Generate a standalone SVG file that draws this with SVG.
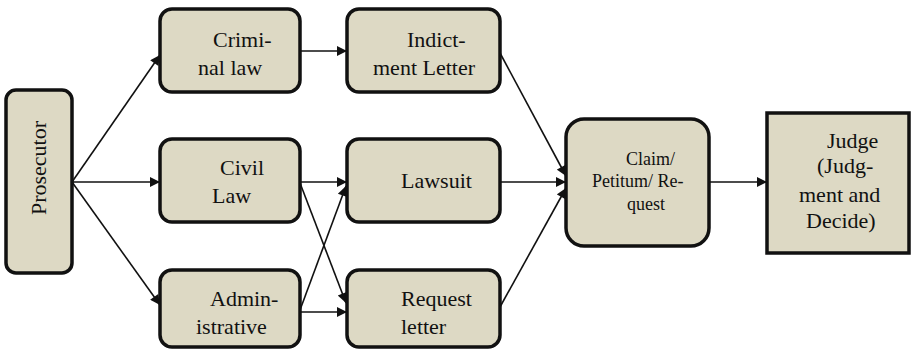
<svg xmlns="http://www.w3.org/2000/svg" width="911" height="350" viewBox="0 0 911 350">
<style>
.box{fill:#ddd9c4;stroke:#111;stroke-width:3.5}
.t{font-family:"Liberation Serif","Times New Roman",serif;font-size:22px;fill:#111}
.s{font-size:18px}
.c{fill:none;stroke:#111;stroke-width:1.6}
</style>
<defs>
<marker id="ah" viewBox="0 0 10 10" refX="10" refY="5" markerWidth="12" markerHeight="10" markerUnits="userSpaceOnUse" orient="auto">
<path d="M0,0 L10,5 L0,10 z" fill="#111"/>
</marker>
</defs>
<rect width="911" height="350" fill="#fff"/>
<g id="connectors">
<line class="c" x1="72" y1="182" x2="160" y2="55" marker-end="url(#ah)"/>
<line class="c" x1="72" y1="182" x2="160" y2="182" marker-end="url(#ah)"/>
<line class="c" x1="72" y1="182" x2="160" y2="305" marker-end="url(#ah)"/>
<line class="c" x1="300" y1="51" x2="347" y2="51" marker-end="url(#ah)"/>
<line class="c" x1="300" y1="182" x2="347" y2="182" marker-end="url(#ah)"/>
<line class="c" x1="300" y1="183" x2="346" y2="303" marker-end="url(#ah)"/>
<line class="c" x1="300" y1="310" x2="346" y2="186" marker-end="url(#ah)"/>
<line class="c" x1="300" y1="312" x2="347" y2="312" marker-end="url(#ah)"/>
<line class="c" x1="500" y1="53" x2="566" y2="176" marker-end="url(#ah)"/>
<line class="c" x1="500" y1="182" x2="566" y2="182" marker-end="url(#ah)"/>
<line class="c" x1="500" y1="307" x2="566" y2="188" marker-end="url(#ah)"/>
<line class="c" x1="709" y1="182" x2="767" y2="182" marker-end="url(#ah)"/>
</g>
<g id="prosecutor">
<rect class="box" x="6" y="90" width="66" height="183" rx="10"/>
<text class="t" transform="translate(46,168) rotate(-90)" text-anchor="middle">Prosecutor</text>
</g>
<g id="criminal">
<rect class="box" x="160" y="9" width="140" height="83" rx="12"/>
<text class="t" x="213" y="47">Crimi-</text>
<text class="t" x="198" y="75">nal law</text>
</g>
<g id="indictment">
<rect class="box" x="347" y="9" width="153" height="83" rx="12"/>
<text class="t" x="407" y="47">Indict-</text>
<text class="t" x="373" y="75">ment Letter</text>
</g>
<g id="civil">
<rect class="box" x="160" y="139" width="140" height="83" rx="12"/>
<text class="t" x="220" y="175">Civil</text>
<text class="t" x="212" y="203">Law</text>
</g>
<g id="lawsuit">
<rect class="box" x="347" y="139" width="153" height="83" rx="12"/>
<text class="t" x="401" y="188">Lawsuit</text>
</g>
<g id="administrative">
<rect class="box" x="160" y="270" width="140" height="77" rx="12"/>
<text class="t" x="210" y="306">Admin-</text>
<text class="t" x="196" y="334">istrative</text>
</g>
<g id="request">
<rect class="box" x="347" y="270" width="153" height="77" rx="12"/>
<text class="t" x="401" y="306">Request</text>
<text class="t" x="401" y="334">letter</text>
</g>
<g id="claim">
<rect class="box" x="566" y="119" width="143" height="127" rx="18"/>
<text class="t s" x="626" y="165">Claim/</text>
<text class="t s" x="592" y="187">Petitum/ Re-</text>
<text class="t s" x="627" y="210">quest</text>
</g>
<g id="judge">
<rect class="box" x="767" y="113" width="142" height="140"/>
<text class="t" x="827" y="148">Judge</text>
<text class="t" x="817" y="173">(Judg-</text>
<text class="t" x="799" y="202">ment and</text>
<text class="t" x="806" y="228">Decide)</text>
</g>
</svg>
